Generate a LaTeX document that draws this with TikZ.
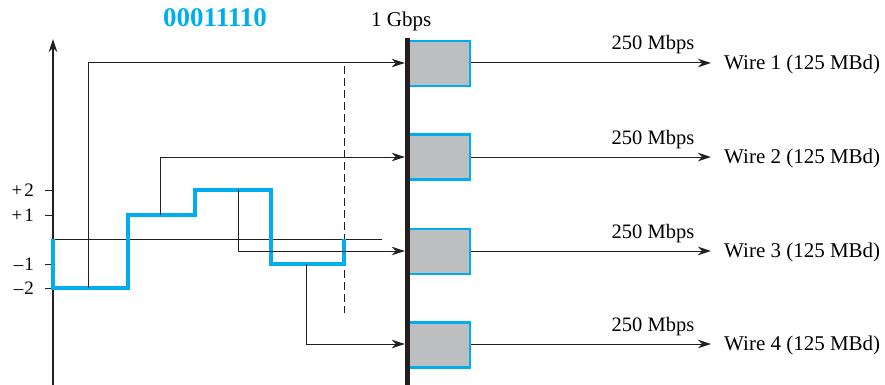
\documentclass[tikz,border=0pt]{standalone}
\usepackage{fontspec}
\setmainfont{Liberation Serif}
\usetikzlibrary{arrows.meta}
\definecolor{sigblue}{HTML}{00AEEF}
\definecolor{boxgray}{HTML}{BCBEC0}
\definecolor{barblack}{HTML}{231F20}
\begin{document}
\begin{tikzpicture}[x=1pt,y=-1pt,
  arr/.style={draw=barblack,line width=1pt,-{Stealth[length=13pt,width=8.5pt,inset=4pt]}},
  thin/.style={draw=barblack,line width=1pt},
  chan/.style={draw=sigblue,line width=2.4pt,fill=boxgray,minimum width=61pt,minimum height=45pt,inner sep=0pt},
  signal/.style={draw=sigblue,line width=4.2pt,line join=miter},
  wirelbl/.style={font=\fontsize{21}{25}\selectfont,inner sep=0pt,anchor=base west},
  ratelbl/.style={font=\fontsize{20.5}{24}\selectfont,inner sep=0pt,anchor=base},
  ticklbl/.style={font=\fontsize{19}{22}\selectfont,inner sep=0pt,anchor=base east},
  tickmark/.style={draw=barblack,line width=1pt}]
\useasboundingbox (0,0) rectangle (885,385);

% titles
\node[font=\fontsize{27}{32}\selectfont\bfseries,text=sigblue,inner sep=0pt,anchor=base] (bits) at (215,27) {00011110};
\node[font=\fontsize{21}{25}\selectfont,inner sep=0pt,anchor=base west] (gbps) at (371,27) {1 Gbps};

% axis
\coordinate (axbot) at (53,385);
\coordinate (axtop) at (53,39);
\draw[draw=barblack,line width=1.2pt,-{Stealth[length=13pt,width=8.5pt,inset=4pt]}] (axbot) -- (axtop);

% ticks and labels
\foreach \nm/\yy/\lbl in {p2/190/{+\kern2pt2},p1/215/{+\kern2pt1},m1/264/{–\kern1pt1},m2/288/{–\kern1pt2}}{
  \coordinate (t\nm) at (45,\yy);
  \draw[tickmark] (t\nm) -- ++(8,0);
  \node[ticklbl] (l\nm) at (34,\yy+6) {\lbl};
}

% dashed line
\coordinate (dtop) at (344,66);
\coordinate (dbot) at (344,313);
\draw[thin,dash pattern=on 8pt off 4pt] (dtop) -- (dbot);

% zero line
\coordinate (z0) at (53,239);
\coordinate (z1) at (382,239);
\draw[thin] (z0) -- (z1);

% signal
\coordinate (s1) at (88,288);
\coordinate (s2) at (160,215);
\coordinate (s3) at (238,190);
\coordinate (s4) at (306,264);
\draw[signal] (53,239) -- (53,288) -- (128,288) -- (128,215) -- (195,215) -- (195,190)
  -- (271,190) -- (271,264) -- (344,264) -- (344,239);

% channel boxes
\node[chan] (b1) at (439.5,63.5) {};
\node[chan] (b2) at (439.5,157) {};
\node[chan] (b3) at (439.5,251.5) {};
\node[chan] (b4) at (439.5,345) {};

% bar
\node[fill=barblack,minimum width=5pt,minimum height=347pt,inner sep=0pt] (bar) at (407.5,211.5) {};

% feeder arrows
\coordinate (r1) at (0,63);
\coordinate (r2) at (0,157);
\coordinate (r3) at (0,251);
\coordinate (r4) at (0,344);
\draw[arr] (s1) |- (bar.west |- r1);
\draw[arr] (s2) |- (bar.west |- r2);
\draw[arr] (s3) |- (bar.west |- r3);
\draw[arr] (s4) |- (bar.west |- r4);

% outputs
\foreach \i/\yy in {1/63,2/157,3/251,4/344}{
  \node[wirelbl] (w\i) at (724,\yy+6.5) {Wire \i\ (125 MBd)};
  \node[ratelbl] (rate\i) at (653,\yy-13) {250 Mbps};
  \draw[arr] (b\i.east |- r\i) -- ([xshift=-13pt]w\i.west |- r\i);
}
\end{tikzpicture}
\end{document}
